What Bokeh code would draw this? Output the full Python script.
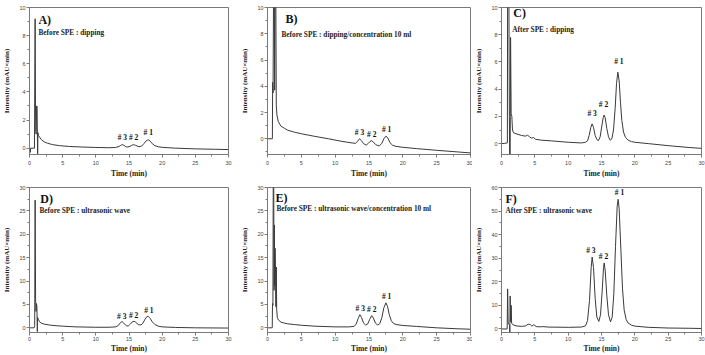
from bokeh.plotting import figure
from bokeh.layouts import column, row
from bokeh.models import Label, Range1d, SingleIntervalTicker
from bokeh.embed import file_html
from bokeh.resources import INLINE

# ---- Chromatogram traces (time in min, intensity in mAU*min) ----
# A) Before SPE : dipping
a_time = [0, 0.08, 0.12, 0.16, 0.75, 0.8, 0.85, 0.9, 0.95, 1.0, 1.08, 1.14, 1.2, 1.23, 1.27, 1.35,
          1.5, 1.8, 2.2, 2.7, 3.5, 4.5, 6, 8, 10, 12, 13, 13.5, 13.75, 14.0, 14.25, 14.6, 15.0,
          15.4, 15.7, 16.0, 16.5, 16.9, 17.3, 17.6, 17.9, 18.2, 18.5, 18.9, 19.4, 20, 22, 25, 28, 30]
a_intensity = [0, 0, -0.3, 0, 0, 5.0, 9.2, 3.0, 1.2, 1.0, 3.0, 3.0, 0.5, -0.4, 1.1, 0.9,
               0.8, 0.6, 0.45, 0.35, 0.25, 0.18, 0.12, 0.08, 0.05, 0.03, 0.05, 0.12, 0.2, 0.25, 0.2, 0.08, 0.1,
               0.2, 0.25, 0.2, 0.1, 0.15, 0.35, 0.52, 0.6, 0.5, 0.32, 0.18, 0.1, 0.06, 0.0, -0.05, -0.08, -0.1]

# B) Before SPE : dipping/concentration 10 ml
b_time = [0, 0.72, 0.76, 0.82, 0.9, 1.0, 1.06, 1.12, 1.22, 1.3, 1.4, 1.6, 2.0, 2.5, 3.0, 4.0, 5.0,
          7.0, 9.0, 11.0, 12.5, 13.0, 13.3, 13.6, 13.9, 14.2, 14.6, 14.9, 15.15, 15.4, 15.65, 16.0,
          16.5, 16.9, 17.2, 17.5, 17.8, 18.1, 18.5, 19.0, 20, 22, 25, 28, 30]
b_intensity = [0, 0, 4.3, 3.5, 12, 12, 3.7, 12, 12, 2.5, 1.8, 1.3, 0.95, 0.8, 0.65, 0.5, 0.38,
               0.18, 0.0, -0.2, -0.32, -0.35, -0.2, 0.0, -0.15, -0.38, -0.48, -0.35, -0.2, -0.15, -0.25, -0.45,
               -0.55, -0.35, 0.0, 0.2, 0.05, -0.3, -0.5, -0.58, -0.65, -0.75, -0.88, -1.0, -1.08]

# C) After SPE : dipping
c_time = [0, 0.5, 0.88, 0.92, 1.1, 1.18, 1.22, 1.3, 1.36, 1.45, 1.55, 1.65, 1.8, 2.2, 3.0, 3.6, 3.9,
          4.2, 4.5, 4.8, 5.1, 6, 7.5, 10, 12, 12.6, 12.9, 13.15, 13.4, 13.6, 13.8, 14.05, 14.3, 14.55,
          14.8, 15.05, 15.25, 15.4, 15.55, 15.8, 16.05, 16.3, 16.55, 16.8, 17.05, 17.25, 17.45, 17.65,
          17.85, 18.05, 18.3, 18.6, 19.0, 19.5, 20, 22, 25, 28, 30]
c_intensity = [0, 0.02, 0.05, 12, 12, 2.0, -0.8, -0.8, 7.8, 2.2, 2.0, 1.0, 0.8, 0.72, 0.6, 0.55, 0.62,
               0.5, 0.4, 0.45, 0.32, 0.25, 0.2, 0.1, 0.05, 0.1, 0.2, 0.6, 1.2, 1.45, 1.2, 0.6, 0.3, 0.22,
               0.5, 1.3, 1.9, 2.1, 1.9, 1.1, 0.5, 0.25, 0.35, 1.0, 2.6, 4.4, 5.25, 4.6,
               3.0, 1.7, 0.85, 0.45, 0.25, 0.15, 0.1, 0.0, -0.15, -0.28, -0.35]

# D) Before SPE : ultrasonic wave
d_time = [0, 0.7, 0.78, 0.85, 0.92, 0.98, 1.05, 1.12, 1.18, 1.22, 1.35, 1.5, 1.8, 2.2, 3, 4, 5, 7,
          10, 12, 13, 13.4, 13.7, 13.95, 14.2, 14.6, 14.9, 15.2, 15.5, 15.75, 16.0, 16.4, 16.8, 17.1,
          17.4, 17.7, 17.9, 18.2, 18.5, 18.9, 19.4, 20, 22, 25, 30]
d_intensity = [0, 0, 0.5, 27.3, 6.0, 3.5, 5.2, 4.5, -0.8, 2.2, 1.8, 1.3, 1.0, 0.8, 0.6, 0.45, 0.35, 0.2,
               0.12, 0.12, 0.2, 0.5, 1.1, 1.35, 1.0, 0.45, 0.4, 0.8, 1.3, 1.4, 1.2, 0.7, 0.6, 1.0,
               1.8, 2.4, 2.45, 2.0, 1.3, 0.7, 0.35, 0.2, 0.08, 0.0, -0.05]

# E) Before SPE : ultrasonic wave/concentration 10 ml
e_time = [0, 0.7, 0.74, 0.8, 0.85, 0.92, 0.97, 1.02, 1.07, 1.12, 1.18, 1.24, 1.3, 1.36, 1.45, 1.6,
          2.0, 2.5, 3, 4, 5, 7, 10, 12, 12.8, 13.1, 13.4, 13.65, 13.9, 14.2, 14.5, 14.8, 15.1, 15.4,
          15.65, 15.95, 16.3, 16.6, 16.9, 17.2, 17.5, 17.75, 18.0, 18.3, 18.6, 19.0, 20, 22, 25, 28, 30]
e_intensity = [0, 0, 5.2, 4.8, 32, 32, 8, 22, 9, 17, 12.5, 4.5, 13, 4.0, 2.2, 1.7,
               1.2, 1.0, 0.85, 0.7, 0.55, 0.35, 0.2, 0.2, 0.3, 0.8, 2.0, 2.8, 2.2, 1.0, 0.6, 0.8, 1.8, 2.6,
               2.1, 1.0, 0.6, 0.9, 2.2, 4.3, 5.35, 4.5, 2.8, 1.5, 0.95, 0.7, 0.5, 0.3, 0.0, -0.2, -0.3]

# F) After SPE : ultrasonic wave
f_time = [0, 0.85, 0.92, 1.0, 1.15, 1.22, 1.25, 1.3, 1.38, 1.45, 1.52, 1.7, 2.2, 3.0, 3.6, 4.0, 4.3,
          4.55, 4.85, 5.2, 5.8, 6.2, 7, 10, 12, 12.6, 12.9, 13.2, 13.45, 13.6, 13.8, 14.05, 14.3, 14.6,
          14.85, 15.1, 15.3, 15.4, 15.55, 15.8, 16.05, 16.35, 16.6, 16.85, 17.1, 17.35, 17.5, 17.65,
          17.9, 18.15, 18.4, 18.7, 19.0, 19.5, 20, 22, 25, 28, 30]
f_intensity = [0, 0, 17, 2.5, 1.8, 1.5, -1.5, 14, 3.0, 10, 2.5, 1.8, 1.3, 1.1, 1.3, 2.0, 1.9,
               1.2, 1.8, 1.0, 0.9, 1.0, 0.8, 0.7, 0.8, 1.3, 3.5, 12, 26, 30.5, 26, 13, 5, 3.2,
               6, 16, 26, 28, 25, 14, 6, 3, 5, 15, 35, 52, 55, 51,
               34, 17, 8, 4, 2.5, 1.6, 1.2, 0.7, 0.4, 0.3, 0.2]

# Peak apexes (#1, #2, #3) per trace: retention time and height
peak_names = ["# 1", "# 2", "# 3"]
a_peak_time, a_peak_height = [17.9, 15.7, 14.0], [0.6, 0.25, 0.25]
b_peak_time, b_peak_height = [17.6, 15.4, 13.6], [0.2, -0.15, 0.0]
c_peak_time, c_peak_height = [17.6, 15.3, 13.6], [5.25, 2.1, 1.45]
d_peak_time, d_peak_height = [18.0, 15.7, 13.9], [2.45, 1.4, 1.35]
e_peak_time, e_peak_height = [17.6, 15.4, 13.7], [5.35, 2.6, 2.8]
f_peak_time, f_peak_height = [17.7, 15.3, 13.4], [55, 28, 30.5]

SERIF = "Liberation Serif"
SANS = "Liberation Sans"
GRAY = "#7a7a7a"


def make_panel(letter, subtitle, t, y, pk_t, pk_h, y_range, y_step,
               width, height, left, right, top, bottom, letter_pos, sub_pos, pk_off,
               x_label_gap, x_title_gap):
    p = figure(width=width, height=height, output_backend="svg", toolbar_location=None,
               x_range=Range1d(0, 30), y_range=Range1d(*y_range),
               min_border_left=left, min_border_right=right,
               min_border_top=top, min_border_bottom=bottom,
               background_fill_color="white", border_fill_color="white")
    p.grid.visible = False
    p.outline_line_color = GRAY
    p.outline_line_width = 1

    p.xaxis.ticker = SingleIntervalTicker(interval=5, num_minor_ticks=2)
    p.yaxis.ticker = SingleIntervalTicker(interval=y_step, num_minor_ticks=2)
    for ax in (p.xaxis[0], p.yaxis[0]):
        ax.axis_line_color = GRAY
        ax.major_tick_line_color = GRAY
        ax.minor_tick_line_color = GRAY
        ax.major_tick_in = 0
        ax.major_tick_out = 3
        ax.minor_tick_in = 0
        ax.minor_tick_out = 2
        ax.major_label_text_font = SANS
        ax.major_label_text_font_size = "5.5px"
        ax.major_label_text_color = "#444444"
        ax.axis_label_text_font = SERIF
        ax.axis_label_text_font_style = "bold"
        ax.axis_label_text_color = "#222222"
    p.xaxis.major_label_standoff = x_label_gap
    p.xaxis.axis_label_standoff = x_title_gap
    p.xaxis.axis_label = "Time (min)"
    p.xaxis.axis_label_text_font_size = "7.5px"
    p.yaxis.major_label_standoff = 1
    p.yaxis.axis_label_standoff = 5
    p.yaxis.axis_label = "Intensity (mAU×min)"
    p.yaxis.axis_label_text_font_size = "7px"

    p.line(t, y, line_color="#3a3a3a", line_width=1)

    x0, x1 = 0, 30
    y0, y1 = y_range

    def at(fx, fy):
        return x0 + fx * (x1 - x0), y0 + fy * (y1 - y0)

    lx, ly = at(*letter_pos)
    p.add_layout(Label(x=lx, y=ly, text=letter, text_font=SERIF, text_font_style="bold",
                       text_font_size="12px", text_color="#111111", text_baseline="middle"))
    sx, sy = at(*sub_pos)
    p.add_layout(Label(x=sx, y=sy, text=subtitle, text_font=SERIF, text_font_style="bold",
                       text_font_size="7.3px", text_color="#222222", text_baseline="middle"))
    for name, pt, ph in zip(peak_names, pk_t, pk_h):
        p.add_layout(Label(x=pt, y=ph, y_offset=pk_off, text=name, text_font=SERIF,
                           text_font_style="bold", text_font_size="7.5px", text_color="#111111",
                           text_align="center", text_baseline="bottom"))
    return p


pa = make_panel("A)", "Before SPE : dipping", a_time, a_intensity, a_peak_time, a_peak_height,
                (-0.45, 10), 2, 235, 180, 26, 7, 7, 26, (0.045, 0.917), (0.045, 0.83), 3, 3, 1)
pb = make_panel("B)", "Before SPE : dipping/concentration 10 ml", b_time, b_intensity,
                b_peak_time, b_peak_height, (-1.2, 10), 2, 237, 180, 32, 2, 7, 26,
                (0.089, 0.925), (0.069, 0.816), 2, 3, 1)
pc = make_panel("C)", "After SPE : dipping", c_time, c_intensity, c_peak_time, c_peak_height,
                (-0.8, 10), 2, 233, 180, 26, 4, 7, 26, (0.059, 0.96), (0.054, 0.85), 6, 3, 1)
pd = make_panel("D)", "Before SPE : ultrasonic wave", d_time, d_intensity, d_peak_time,
                d_peak_height, (-1, 30), 5, 235, 175, 26, 7, 7, 23, (0.054, 0.924), (0.05, 0.84), 1,
                1, 0)
pe = make_panel("E)", "Before SPE : ultrasonic wave/concentration 10 ml", e_time, e_intensity,
                e_peak_time, e_peak_height, (-1, 30), 5, 237, 175, 32, 2, 7, 23,
                (0.04, 0.93), (0.044, 0.855), 2, 1, 0)
pf = make_panel("F)", "After SPE : ultrasonic wave", f_time, f_intensity, f_peak_time,
                f_peak_height, (-1.5, 60), 10, 233, 175, 26, 4, 7, 23, (0.02, 0.924), (0.02, 0.84), 2,
                1, 0)

layout = column(row(pa, pb, pc, spacing=0), row(pd, pe, pf, spacing=0), spacing=0)

with open("out.html", "w") as fh:
    fh.write(file_html(layout, INLINE))
